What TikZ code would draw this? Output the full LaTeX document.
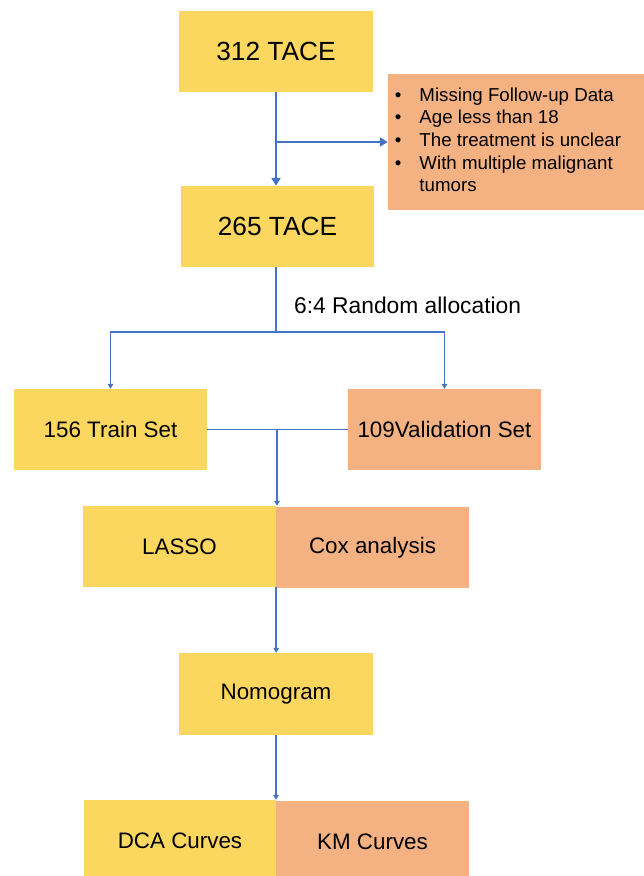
\documentclass[tikz,border=0pt]{standalone}
\usepackage{fontspec}
\setmainfont{Liberation Sans}
\usetikzlibrary{arrows.meta}
\definecolor{boxyellow}{RGB}{251,215,95}
\definecolor{boxorange}{RGB}{244,178,131}
\definecolor{lineblue}{RGB}{68,114,196}
\tikzset{
  ybox/.style={rectangle, fill=boxyellow, draw=none, minimum width=193pt, minimum height=81pt, inner sep=0pt, text=black},
  obox/.style={rectangle, fill=boxorange, draw=none, minimum width=193pt, minimum height=81pt, inner sep=0pt, text=black},
  bigtxt/.style={font=\fontsize{26.3}{30}\selectfont},
  medtxt/.style={font=\fontsize{22.4}{26}\selectfont},
  thickconn/.style={draw=lineblue, line width=2.2pt, -{Triangle[width=9pt,length=8pt]}},
  thickline/.style={draw=lineblue, line width=2.2pt},
  thinconn/.style={draw=lineblue, line width=1.5pt, -{Triangle[width=5.5pt,length=5pt]}},
  thinline/.style={draw=lineblue, line width=1.5pt},
}
\begin{document}
\begin{tikzpicture}[x=1pt,y=-1pt]
\useasboundingbox (0,0) rectangle (644,876);
\fill[white] (0,0) rectangle (644,876);

\node[ybox, bigtxt, minimum width=194pt] (t312) at (276,51.5) {312 TACE};
\node[obox, minimum width=256pt, minimum height=136pt, align=left] (excl) at (516,142)
  {\fontsize{18.7}{22.7}\selectfont
   \begin{tabular}{@{}l@{\hspace{18pt}}l@{}}
   • & Missing Follow-up Data\\
   • & Age less than 18\\
   • & The treatment is unclear\\
   • & With multiple malignant\\
     & tumors
   \end{tabular}\hspace{16pt}};
\node[ybox, bigtxt] (t265) at (277.5,226.5) {265 TACE};
\node[anchor=west, font=\fontsize{22.8}{26}\selectfont, inner sep=0pt] (alloc) at (294,305) {6:4 Random allocation};

\node[ybox, medtxt] (train) at (110.5,429.5) {156 Train Set};
\node[obox, medtxt] (val) at (444.5,429.5) {109Validation Set};

\node[ybox, medtxt] (lasso) at (179.5,546.5) {LASSO};
\node[obox, medtxt] (cox) at (372.5,547.5) {Cox analysis};

\node[ybox, medtxt, minimum width=194pt, minimum height=82pt] (nomo) at (276,694) {Nomogram};

\node[ybox, medtxt, minimum width=192pt] (dca) at (180,840.5) {DCA Curves};
\node[obox, medtxt] (km) at (372.5,841.5) {KM Curves};

% connectors
\coordinate (b1) at (276,142);
\draw[thickconn] (t312.south) -- (t312.south |- t265.north);
\draw[thickconn] (b1) -- (excl.west);

\coordinate (split) at (276,332);
\draw[thinline] (t265.south -| split) -- (split);
\draw[thinconn] (split) -| (train.north);
\draw[thinconn] (split) -| (val.north);

\coordinate (mid) at (277,430);
\draw[thinline] (train.east) -- (val.west);
\draw[thinconn] (mid) -- (mid |- lasso.north);

\draw[thinconn] (lasso.south east) -- (lasso.south east |- nomo.north);
\draw[thinconn] (nomo.south) -- (nomo.south |- dca.north);
\end{tikzpicture}
\end{document}
